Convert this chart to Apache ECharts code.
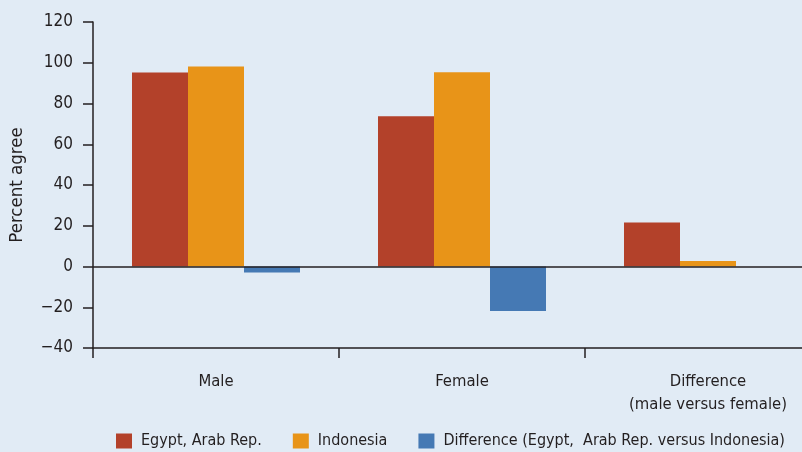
<!DOCTYPE html>
<html>
<head>
<meta charset="utf-8">
<script src="https://cdn.jsdelivr.net/npm/echarts@6/dist/echarts.min.js"></script>
<style>
html,body{margin:0;padding:0;background:#e1ebf5;}
#chart{width:802px;height:452px;}
</style>
</head>
<body>
<div id="chart"></div>
<script>
var categories = ['Male', 'Female', 'Difference\n(male versus female)'];
var seriesNames = ['Egypt, Arab Rep.', 'Indonesia', 'Difference (Egypt,  Arab Rep. versus Indonesia)'];
var egypt = [95.2, 73.7, 21.6];
var indonesia = [98.2, 95.3, 2.7];
var difference = [-2.9, -21.8, null];
var yTicks = { min: -40, max: 120, interval: 20 };

var FONT = '"Liberation Sans Narrow", "DejaVu Sans Condensed", sans-serif';
var TXT = '#231f20';
var colors = ['#b3412a', '#e89418', '#4579b4'];

var chart = echarts.init(document.getElementById('chart'));
function bar(name, data, color, extra) {
  var s = {
    name: name, type: 'bar', data: data, barWidth: 56, barGap: '0%',
    itemStyle: { color: color }, z: 2
  };
  if (extra) Object.assign(s, extra);
  return s;
}
chart.setOption({
  backgroundColor: '#e1ebf5',
  animation: false,
  textStyle: { fontFamily: FONT, color: TXT },
  grid: { left: 93, right: -29, top: 22, bottom: 104, containLabel: false, outerBoundsMode: 'none' },
  legend: {
    data: seriesNames,
    left: 116, top: 433, width: 800, padding: 0,
    itemWidth: 16, itemHeight: 15, itemGap: 31,
    icon: 'rect',
    textStyle: { fontFamily: FONT, fontSize: 16, color: TXT, padding: [0, 0, 0, 4] }
  },
  xAxis: {
    type: 'category', data: categories,
    axisLine: { onZero: false, lineStyle: { color: TXT, width: 1.5 } },
    axisTick: { show: true, length: 10, lineStyle: { color: TXT, width: 1.5 } },
    axisLabel: { fontFamily: FONT, fontSize: 16.5, color: TXT, margin: 22, lineHeight: 23 },
    splitLine: { show: false }
  },
  yAxis: {
    type: 'value', min: yTicks.min, max: yTicks.max, interval: yTicks.interval,
    name: 'Percent agree', nameLocation: 'middle', nameGap: 66, nameRotate: 90,
    nameTextStyle: { fontFamily: FONT, fontSize: 18.5, color: TXT },
    axisLine: { show: true, lineStyle: { color: TXT, width: 1.5 } },
    axisTick: { show: true, length: 10, lineStyle: { color: TXT, width: 1.5 } },
    axisLabel: {
      fontFamily: FONT, fontSize: 17, color: TXT, margin: 20,
      formatter: function (v) { return v < 0 ? '\u2212' + Math.abs(v) : String(v); }
    },
    splitLine: { show: false }
  },
  series: [
    bar(seriesNames[0], egypt, colors[0], {
      markLine: {
        silent: true, symbol: 'none', label: { show: false },
        lineStyle: { color: TXT, width: 1.5, type: 'solid' },
        data: [{ yAxis: 0 }], z: 5
      }
    }),
    bar(seriesNames[1], indonesia, colors[1]),
    bar(seriesNames[2], difference, colors[2])
  ]
});
</script>
</body>
</html>
